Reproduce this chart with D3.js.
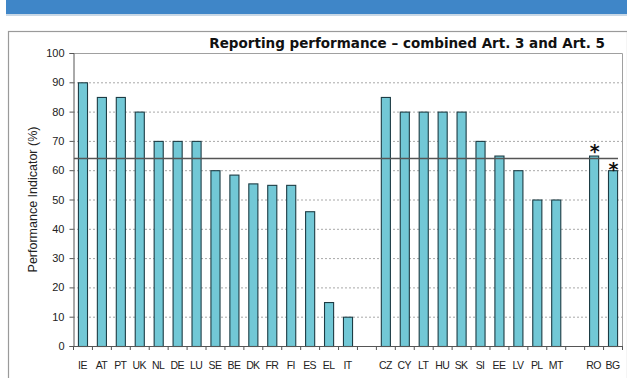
<!DOCTYPE html>
<html>
<head>
<meta charset="utf-8">
<script src="https://cdn.jsdelivr.net/npm/d3@7/dist/d3.min.js"></script>
<style>
  html, body { margin: 0; padding: 0; background: #fff; }
  svg { display: block; }
</style>
</head>
<body>
<svg id="chart" width="627" height="378"></svg>
<script>
// Member state codes, in plotted order; empty strings are spacer slots between groups
const countries = ["IE","AT","PT","UK","NL","DE","LU","SE","BE","DK","FR","FI","ES","EL","IT","",
                   "CZ","CY","LT","HU","SK","SI","EE","LV","PL","MT","",
                   "RO","BG"];
// Performance indicator (%) for each slot; null for spacers
const performance = [90,85,85,80,70,70,70,60,58.5,55.5,55,55,46,15,10,null,
                     85,80,80,80,80,70,65,60,50,50,null,
                     65,60];
// States marked with an asterisk
const starred = ["RO","BG"];
// Average performance reference line
const averageLevel = 64;
const yTicks = [0,10,20,30,40,50,60,70,80,90,100];
const chartTitle = "Reporting performance \u2013 combined Art. 3 and Art. 5";
const yAxisTitle = "Performance Indicator (%)";

const svg = d3.select("#chart");
const W = 627, H = 378;
const plot = { left: 73, right: 622, top: 53, bottom: 346 };

// Header band
svg.append("rect").attr("x", 6).attr("y", 0).attr("width", W - 6).attr("height", 14)
  .attr("fill", "#3f86c8");
svg.append("rect").attr("x", 6).attr("y", 14).attr("width", W - 6).attr("height", 2)
  .attr("fill", "#c9d8e6");

// Outer frame
svg.append("rect").attr("x", 8.5).attr("y", 31.5).attr("width", W - 8).attr("height", H)
  .attr("fill", "none").attr("stroke", "#9a9a9a").attr("stroke-width", 1.2);

const slots = countries.map((c, i) => i);
const x = d3.scaleBand().domain(slots).range([plot.left, plot.right]).paddingInner(0.52).paddingOuter(0.26);
const step = (plot.right - plot.left) / slots.length;
const y = d3.scaleLinear().domain([0, 100]).range([plot.bottom, plot.top]);

// Gridlines
svg.append("g").selectAll("line").data(yTicks.filter(t => t > 0 && t < 100)).join("line")
  .attr("x1", plot.left).attr("x2", plot.right)
  .attr("y1", d => y(d) + 0.5).attr("y2", d => y(d) + 0.5)
  .attr("stroke", "#a8a8a8").attr("stroke-dasharray", "2,2").attr("stroke-width", 1);

// Plot area border (top and right)
svg.append("path")
  .attr("d", `M${plot.left},${plot.top + 0.5}H${plot.right + 0.5}V${plot.bottom}`)
  .attr("fill", "none").attr("stroke", "#a0a0a0").attr("stroke-width", 1);

// Y axis
const yAxis = d3.axisLeft(y).tickValues(yTicks).tickSize(4).tickPadding(5);
const gy = svg.append("g").attr("transform", `translate(${plot.left + 0.5},0)`).call(yAxis);
gy.select(".domain").attr("stroke", "#555");
gy.selectAll(".tick line").attr("stroke", "#555");
gy.selectAll("text").attr("font-family", "Arial, 'Liberation Sans', sans-serif")
  .attr("font-size", 11).attr("fill", "#222");

// Bars
const bars = countries.map((c, i) => ({ c, i, v: performance[i] })).filter(d => d.v !== null);
svg.append("g").selectAll("rect").data(bars).join("rect")
  .attr("x", d => x(d.i) + 0.5)
  .attr("y", d => y(d.v) + 0.5)
  .attr("width", x.bandwidth())
  .attr("height", d => y(0) - y(d.v))
  .attr("fill", "#72c8d6")
  .attr("stroke", "#1d3c44").attr("stroke-width", 1.1);

// X axis baseline with tick marks between slots
const gx = svg.append("g");
gx.append("line").attr("x1", plot.left).attr("x2", plot.right)
  .attr("y1", plot.bottom + 0.5).attr("y2", plot.bottom + 0.5).attr("stroke", "#555");
gx.selectAll("line.tk").data(d3.range(slots.length + 1)).join("line").attr("class", "tk")
  .attr("x1", d => plot.left + d * step + 0.5).attr("x2", d => plot.left + d * step + 0.5)
  .attr("y1", plot.bottom).attr("y2", plot.bottom + 4).attr("stroke", "#555");
gx.selectAll("text").data(bars).join("text")
  .attr("x", d => x(d.i) + x.bandwidth() / 2)
  .attr("y", 369)
  .attr("text-anchor", "middle")
  .attr("font-family", "'Liberation Sans Narrow', Arial, sans-serif")
  .attr("font-size", 10.5).attr("letter-spacing", -0.6).attr("fill", "#222")
  .text(d => d.c);

// Average line
svg.append("line")
  .attr("x1", x(0) - 4).attr("x2", plot.right - 4)
  .attr("y1", y(averageLevel)).attr("y2", y(averageLevel))
  .attr("stroke", "#555").attr("stroke-width", 1.6);

// Asterisks
svg.append("g").selectAll("text").data(bars.filter(d => starred.includes(d.c))).join("text")
  .attr("x", d => x(d.i) + x.bandwidth() / 2 + 1)
  .attr("y", d => y(d.v) + (d.c === "RO" ? 2 : 6))
  .attr("text-anchor", "middle")
  .attr("font-family", "'DejaVu Sans', sans-serif").attr("font-weight", "bold")
  .attr("font-size", 19).attr("fill", "#111")
  .text("*");

// Titles
svg.append("text").attr("x", 605).attr("y", 48).attr("text-anchor", "end")
  .attr("font-family", "'DejaVu Sans', sans-serif").attr("font-weight", "bold")
  .attr("font-size", 13.5).attr("fill", "#111").text(chartTitle);
svg.append("text")
  .attr("transform", `translate(37,${(plot.top + plot.bottom) / 2}) rotate(-90)`)
  .attr("text-anchor", "middle")
  .attr("font-family", "Arial, 'Liberation Sans', sans-serif")
  .attr("font-size", 12.5).attr("fill", "#222").text(yAxisTitle);
</script>
</body>
</html>
